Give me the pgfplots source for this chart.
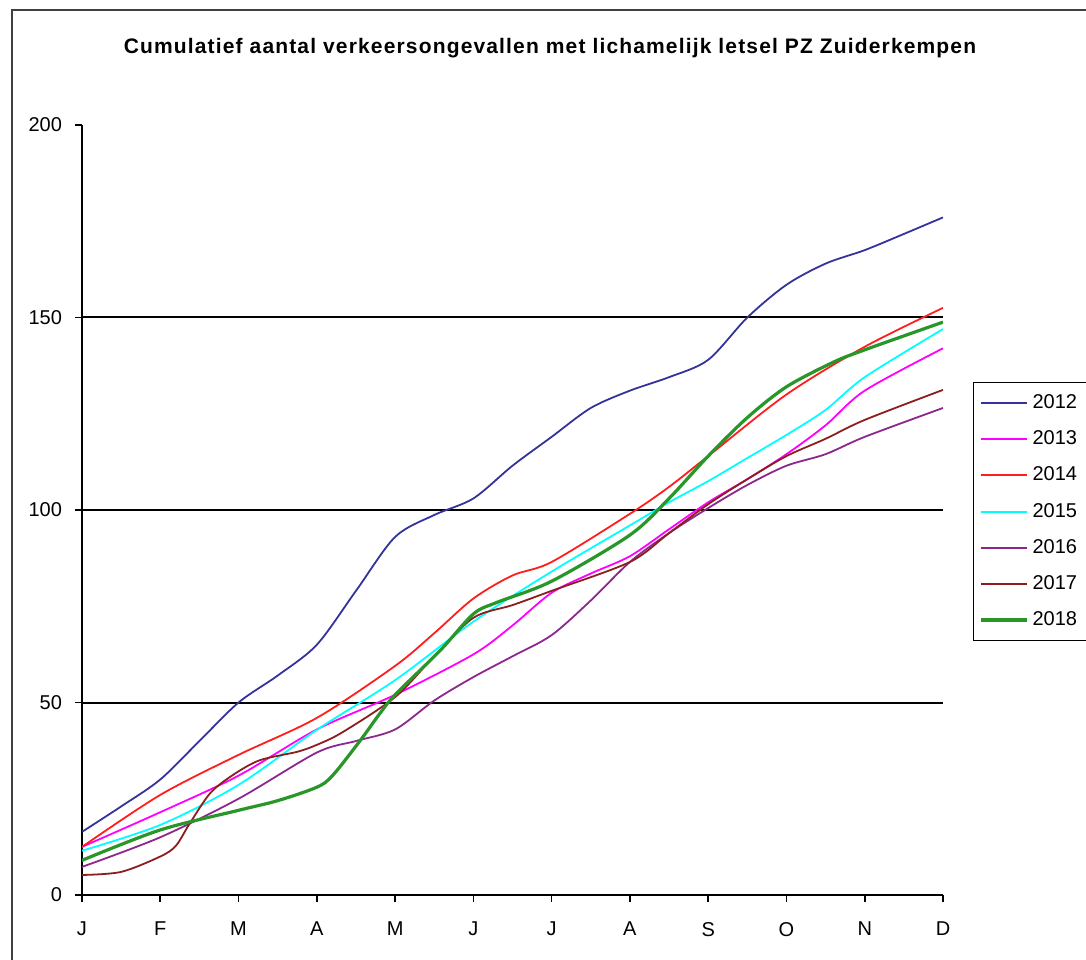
\documentclass[border=0pt]{standalone}
\usepackage{pgfplots}
\pgfplotsset{compat=1.18}
\usepackage{fontspec}
\setmainfont{Liberation Sans}
\definecolor{c12}{RGB}{51,51,153}
\definecolor{c13}{RGB}{255,0,255}
\definecolor{c14}{RGB}{255,30,30}
\definecolor{c15}{RGB}{0,255,255}
\definecolor{c16}{RGB}{140,40,140}
\definecolor{c17}{RGB}{140,30,30}
\definecolor{c18}{RGB}{40,150,40}
\begin{document}
\begin{tikzpicture}
\useasboundingbox (-41pt,-32pt) rectangle (502pt,447.5pt);
\draw[black!75, line width=1pt] (-35pt,-40pt) -- (-35pt,442.5pt) -- (520pt,442.5pt);
\begin{axis}[
  at={(0,0)}, anchor=south west,
  scale only axis, width=430.5pt, height=385pt,
  xmin=0, xmax=11, ymin=0, ymax=200,
  axis x line=bottom, axis y line=left,
  axis line style={-, line width=0.8pt},
  xtick={0,...,11},
  xticklabels={J,F,M,A,M,J,J,A,S,O,N,D},
  ytick={0,50,100,150,200},
  extra y ticks={50,100,150},
  extra y tick labels={},
  extra y tick style={ymajorgrids=true, major tick length=0pt},
  major grid style={black, line width=1pt},
  tick align=outside,
  major tick length=3.5pt,
  tick style={black, line width=0.8pt},
  tick label style={font=\fontsize{10}{12}\selectfont},
  /pgf/number format/assume math mode=true,
  yticklabel style={xshift=-3pt},
  xticklabel style={yshift=-6.5pt},
  legend style={at={(rel axis cs:1.0348,0.666)}, anchor=north west,
    draw=black, font=\fontsize{10}{12}\selectfont,
    row sep=5.6pt, inner xsep=3pt, inner ysep=4pt},
  legend cell align=left,
  legend image code/.code={\draw[#1] (0pt,0pt) -- (23pt,0pt);},
  every axis plot/.append style={smooth, tension=0.5},
]
\addplot[c12, line width=0.9pt, forget plot] coordinates {(0,16.4)(0.5,23)(1,30)(1.5,40)(2,50)(2.5,57)(3,65)(3.5,79)(4,93)(4.5,98.7)(5,103)(5.5,111.5)(6,119)(6.5,126.5)(7,131)(7.5,134.5)(8,139)(8.5,150)(9,158.5)(9.5,164)(10,167.5)(10.5,171.7)(11,176)};
\addplot[c13, line width=0.9pt, forget plot] coordinates {(0,12.5)(1,21.5)(2,31)(3,43)(4,52)(5,62.5)(5.5,70)(6,78.5)(6.5,83.5)(7,88)(7.5,95)(8,102)(8.5,108)(9,114.5)(9.5,122)(10,131)(11,142)};
\addplot[c14, line width=0.9pt, forget plot] coordinates {(0,12.5)(1,26)(2,36.4)(3,46)(4,59.5)(4.5,68)(5,77)(5.5,83)(6,86.5)(7,99)(7.5,106)(8,114)(9,130)(10,142.4)(11,152.5)};
\addplot[c15, line width=0.9pt, forget plot] coordinates {(0,11.5)(1,18.2)(2,28.6)(3,42.9)(4,55.8)(5,71)(6,84)(7,96)(7.5,102)(8,107.5)(8.5,113.5)(9,119.5)(9.5,126)(10,134.5)(11,147)};
\addplot[c16, line width=0.9pt, forget plot] coordinates {(0,7.3)(1,15)(2,25)(3,37)(3.5,40)(4,43)(4.5,50.5)(5,56.6)(5.5,62)(6,67.5)(6.5,76.5)(7,86.5)(7.5,94)(8,100.5)(8.5,106.5)(9,111.5)(9.5,114.5)(10,119)(11,126.5)};
\addplot[c17, line width=0.9pt, forget plot] coordinates {(0,5.2)(0.5,6)(1,10)(1.2,12.8)(1.38,18.7)(1.64,26.5)(1.93,31.2)(2.27,35)(2.75,37.2)(3,39)(3.33,42.3)(4,51.4)(4.5,62)(5,72)(5.5,75.3)(6,79)(7,86.5)(7.5,94)(8,101.5)(8.5,108)(9,114)(9.5,118.5)(10,123.4)(11,131.2)};
\addplot[c18, line width=1.6pt, forget plot] coordinates {(0,9)(1,16.9)(2,22)(2.5,24.5)(3,28)(3.2,31)(3.55,40)(3.8,47)(4,52)(4.58,63.6)(5,73)(5.3,76)(6,81.5)(7,93.5)(7.5,103)(8,114)(8.5,124)(9,132)(9.6,138.4)(10,141.6)(11,148.8)};
\addlegendimage{c12, line width=1pt}\addlegendentry{2012}
\addlegendimage{c13, line width=1pt}\addlegendentry{2013}
\addlegendimage{c14, line width=1pt}\addlegendentry{2014}
\addlegendimage{c15, line width=1pt}\addlegendentry{2015}
\addlegendimage{c16, line width=1pt}\addlegendentry{2016}
\addlegendimage{c17, line width=1pt}\addlegendentry{2017}
\addlegendimage{c18, line width=1.6pt}\addlegendentry{2018}
\end{axis}
\node[font=\bfseries\fontsize{10.5}{12}\selectfont\addfontfeatures{LetterSpace=5.5}] at (234pt,423.5pt) {Cumulatief aantal verkeersongevallen met lichamelijk letsel PZ Zuiderkempen};
\end{tikzpicture}
\end{document}
